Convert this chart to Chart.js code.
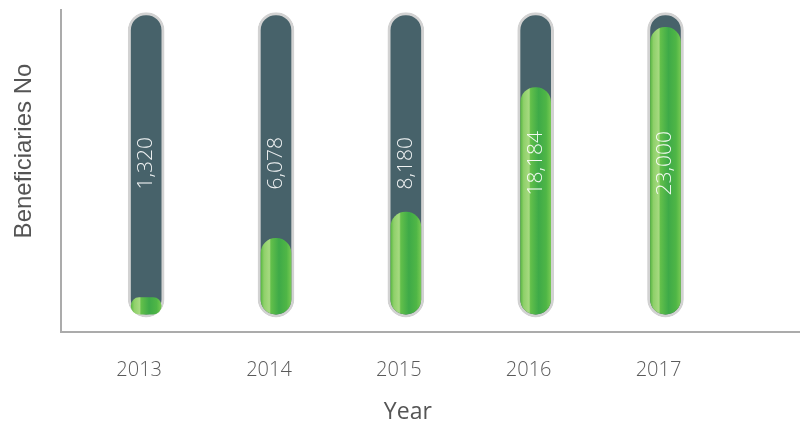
<!DOCTYPE html>
<html>
<head>
<meta charset="utf-8">
<script src="https://cdn.jsdelivr.net/npm/chart.js@4.4.1/dist/chart.umd.min.js"></script>
<style>
  html, body { margin: 0; padding: 0; background: #fff; }
  #wrap { width: 800px; height: 426px; }
</style>
</head>
<body>
<div id="wrap"><canvas id="beneficiariesChart" width="800" height="426"></canvas></div>
<script>
const years = ['2013', '2014', '2015', '2016', '2017'];
const beneficiaries = [1320, 6078, 8180, 18184, 23000];
const capacity = [24200, 24200, 24200, 24200, 24200];

// green liquid: horizontal gradient across each tube
function liquidFill(context) {
  const chart = context.chart;
  if (!chart.chartArea || context.dataIndex === undefined) return '#52b848';
  const cx = chart.scales.x.getPixelForValue(context.dataIndex);
  const g = chart.ctx.createLinearGradient(cx - 15, 0, cx + 15, 0);
  g.addColorStop(0, '#5cb944');
  g.addColorStop(0.1, '#8fd06a');
  g.addColorStop(0.28, '#a6da80');
  g.addColorStop(0.33, '#63c04a');
  g.addColorStop(0.6, '#3eaa48');
  g.addColorStop(0.85, '#4fb646');
  g.addColorStop(1, '#74c852');
  return g;
}

// value written sideways in the middle of each tube, plus the axis titles
const tubeLabels = {
  id: 'tubeLabels',
  afterDatasetsDraw(chart) {
    const { ctx, scales: { x, y } } = chart;
    ctx.save();
    ctx.fillStyle = 'rgba(255, 255, 255, 0.92)';
    ctx.font = '300 21px "Open Sans", sans-serif';
    ctx.textAlign = 'center';
    ctx.textBaseline = 'middle';
    beneficiaries.forEach((v, i) => {
      const cx = x.getPixelForValue(i);
      const cy = (y.getPixelForValue(0) + y.getPixelForValue(capacity[i])) / 2;
      ctx.save();
      ctx.translate(cx, cy);
      ctx.rotate(-Math.PI / 2);
      ctx.fillText(v.toLocaleString('en-US'), 0, 0);
      ctx.restore();
    });

    // axis titles
    ctx.fillStyle = '#555';
    ctx.font = '23px "Open Sans", sans-serif';
    ctx.fillText('Year', x.getPixelForValue(2) + 2, 412);

    ctx.font = '24px "Liberation Sans", sans-serif';
    ctx.translate(24, 151);
    ctx.rotate(-Math.PI / 2);
    ctx.fillText('Beneficiaries No', 0, 0);
    ctx.restore();
  }
};

new Chart(document.getElementById('beneficiariesChart'), {
  type: 'bar',
  data: {
    datasets: [
      {
        label: 'Beneficiaries',
        data: beneficiaries.map((v, i) => ({ x: i, y: v })),
        backgroundColor: liquidFill,
        borderWidth: 0,
        borderRadius: 15,
        borderSkipped: false,
        barThickness: 30,
        grouped: false
      },
      {
        label: 'Tube',
        data: capacity.map((v, i) => ({ x: i, y: v })),
        base: -240,
        backgroundColor: '#47626a',
        borderColor: '#d2d2d2',
        borderWidth: 3,
        borderRadius: 18,
        borderSkipped: false,
        barThickness: 36,
        grouped: false
      }
    ]
  },
  options: {
    responsive: false,
    animation: false,
    layout: { padding: { left: 61, right: 0, top: 10, bottom: 18 } },
    plugins: {
      legend: { display: false },
      tooltip: { enabled: false }
    },
    scales: {
      x: {
        type: 'linear',
        min: -0.656,
        max: 5.036,
        offset: false,
        grid: { display: false, drawTicks: false },
        border: { display: true, color: '#ababab', width: 2 },
        afterBuildTicks: scale => { scale.ticks = years.map((_, i) => ({ value: i })); },
        ticks: {
          autoSkip: false,
          maxRotation: 0,
          padding: 26,
          labelOffset: -7,
          color: '#5a5a5a',
          font: { family: 'Open Sans', size: 20, weight: '300' },
          callback: v => years[v] ?? ''
        }
      },
      y: {
        min: -1440,
        max: 24400,
        grid: { display: false, drawTicks: false },
        border: { display: true, color: '#ababab', width: 2 },
        ticks: { display: false }
      }
    }
  },
  plugins: [tubeLabels]
});
</script>
</body>
</html>
